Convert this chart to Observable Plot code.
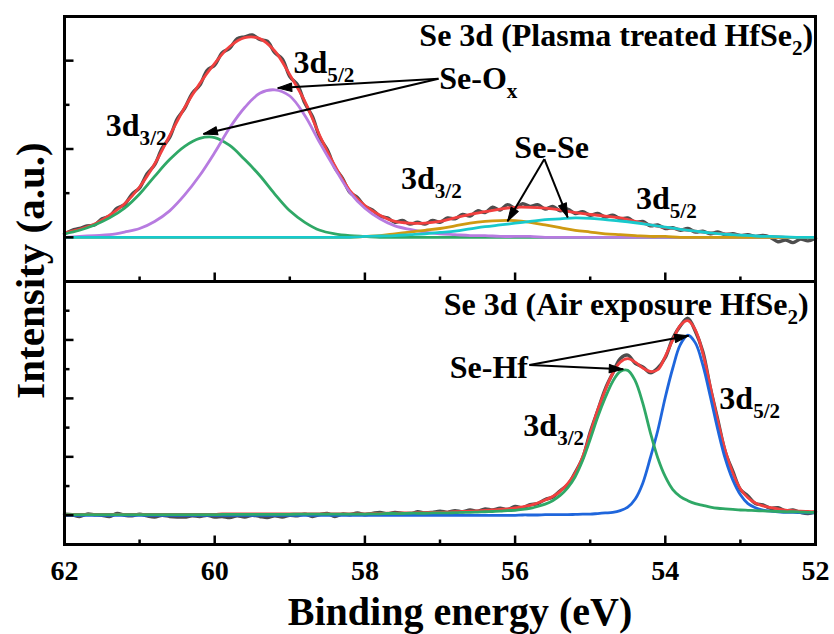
<!DOCTYPE html>
<html>
<head>
<meta charset="utf-8">
<script src="https://cdn.jsdelivr.net/npm/d3@7"></script>
<script src="https://cdn.jsdelivr.net/npm/@observablehq/plot@0.6"></script>
<style>
  html, body { margin: 0; padding: 0; background: #fff; }
  #chart { position: relative; width: 834px; height: 634px; overflow: hidden; background: #fff; }
  #chart svg { position: absolute; left: 0; }
</style>
</head>
<body>
<div id="chart"></div>
<script>
// ---------- sampled spectra (binding energy in eV, intensity in arbitrary units) ----------
// fitted curves of the upper panel are sampled every 0.2 eV, all others every 0.1 eV
const energyFitTop = d3.range(0, 51).map(i => +(62 - i * 0.2).toFixed(1));
const energyFine = d3.range(0, 101).map(i => +(62 - i * 0.1).toFixed(1));

// Se 3d, plasma treated HfSe2
const plasmaRaw = [
  0.04, 0.08, 0.10, 0.13, 0.14, 0.21, 0.24, 0.33, 0.37, 0.49,
  0.56, 0.72, 0.82, 1.01, 1.13, 1.34, 1.46, 1.63, 1.72, 1.89,
  1.95, 2.09, 2.14, 2.25, 2.27, 2.29, 2.24, 2.22, 2.09, 2.02,
  1.82, 1.73, 1.52, 1.37, 1.13, 0.99, 0.79, 0.67, 0.51, 0.45,
  0.35, 0.31, 0.24, 0.22, 0.17, 0.19, 0.15, 0.17, 0.15, 0.19,
  0.17, 0.22, 0.21, 0.26, 0.24, 0.30, 0.28, 0.34, 0.31, 0.37,
  0.33, 0.38, 0.35, 0.37, 0.32, 0.35, 0.30, 0.32, 0.27, 0.29,
  0.25, 0.27, 0.23, 0.25, 0.21, 0.22, 0.17, 0.18, 0.13, 0.14,
  0.10, 0.11, 0.08, 0.10, 0.06, 0.07, 0.04, 0.06, 0.03, 0.04,
  0.02, 0.03, 0.01, 0.02, 0.00, -0.05, -0.03, -0.06, -0.02, -0.04,
  -0.01
];
const plasmaEnvelope = [
  0.05, 0.09, 0.15, 0.25, 0.38, 0.57, 0.83, 1.15, 1.47, 1.74,
  1.97, 2.16, 2.26, 2.25, 2.11, 1.84, 1.54, 1.15, 0.81, 0.53,
  0.36, 0.25, 0.18, 0.16, 0.16, 0.18, 0.22, 0.26, 0.29, 0.32,
  0.34, 0.34, 0.33, 0.31, 0.28, 0.26, 0.24, 0.22, 0.18, 0.14,
  0.11, 0.09, 0.07, 0.05, 0.04, 0.02, 0.01, 0.01, 0, 0, 0
];
const seOx32 = [
  0.04, 0.08, 0.14, 0.22, 0.33, 0.49, 0.69, 0.88, 1.03, 1.12,
  1.13, 1.04, 0.88, 0.70, 0.49, 0.30, 0.17, 0.08, 0.04, 0.02,
  0.01, 0, 0, 0, 0, 0, 0, 0, 0, 0,
  0, 0, 0, 0, 0, 0, 0, 0, 0, 0,
  0, 0, 0, 0, 0, 0, 0, 0, 0, 0, 0
];
const seOx52 = [
  0, 0.01, 0.02, 0.03, 0.06, 0.10, 0.18, 0.30, 0.48, 0.70,
  0.96, 1.24, 1.47, 1.63, 1.67, 1.60, 1.38, 1.07, 0.78, 0.51,
  0.33, 0.21, 0.13, 0.09, 0.06, 0.04, 0.03, 0.02, 0.02, 0.01,
  0.01, 0.01, 0, 0, 0, 0, 0, 0, 0, 0,
  0, 0, 0, 0, 0, 0, 0, 0, 0, 0, 0
];
const seSe32 = [
  0, 0, 0, 0, 0, 0, 0, 0, 0, 0,
  0, 0, 0, 0, 0, 0, 0, 0, 0, 0,
  0.01, 0.02, 0.04, 0.06, 0.08, 0.10, 0.13, 0.16, 0.18, 0.19,
  0.19, 0.17, 0.14, 0.11, 0.08, 0.06, 0.04, 0.03, 0.02, 0.01,
  0.01, 0, 0, 0, 0, 0, 0, 0, 0, 0, 0
];
const seSe52 = [
  0, 0, 0, 0, 0, 0, 0, 0, 0, 0,
  0, 0, 0, 0, 0, 0, 0, 0, 0, 0,
  0.01, 0.015, 0.02, 0.03, 0.04, 0.055, 0.07, 0.095, 0.12, 0.14,
  0.16, 0.18, 0.20, 0.21, 0.22, 0.215, 0.20, 0.185, 0.165, 0.14,
  0.115, 0.09, 0.07, 0.05, 0.035, 0.025, 0.015, 0.01, 0.005, 0, 0
];

// Se 3d, air exposed HfSe2
const airRaw = [
  0.02, 0.01, -0.02, 0.02, 0.01, 0.00, -0.02, 0.03, 0.00, -0.01,
  0.02, -0.01, -0.03, 0.00, -0.02, -0.03, -0.03, -0.01, -0.02, 0.00,
  -0.03, -0.02, -0.04, -0.01, -0.03, 0.00, -0.02, -0.04, -0.01, -0.03,
  0.00, -0.01, 0.02, -0.02, 0.01, 0.03, -0.02, 0.02, 0.01, 0.04,
  0.01, 0.03, 0.05, 0.02, 0.05, 0.03, 0.02, 0.06, 0.04, 0.05,
  0.07, 0.05, 0.08, 0.06, 0.09, 0.07, 0.11, 0.09, 0.12, 0.10,
  0.15, 0.13, 0.18, 0.20, 0.27, 0.31, 0.42, 0.52, 0.73, 0.98,
  1.42, 1.79, 2.16, 2.43, 2.68, 2.74, 2.60, 2.54, 2.44, 2.52,
  2.70, 3.03, 3.24, 3.37, 3.15, 2.80, 2.18, 1.63, 1.08, 0.75,
  0.44, 0.33, 0.20, 0.18, 0.12, 0.13, 0.08, 0.09, 0.05, 0.03,
  0.06
];
const airEnvelope = [
  0.015, 0.015, 0.015, 0.015, 0.015, 0.015, 0.015, 0.015, 0.015, 0.015,
  0.015, 0.015, 0.015, 0.015, 0.015, 0.015, 0.015, 0.015, 0.015, 0.015,
  0.015, 0.025, 0.025, 0.025, 0.025, 0.025, 0.025, 0.025, 0.025, 0.025,
  0.025, 0.025, 0.025, 0.025, 0.025, 0.025, 0.025, 0.025, 0.025, 0.025,
  0.025, 0.03, 0.03, 0.035, 0.035, 0.04, 0.04, 0.045, 0.045, 0.05,
  0.05, 0.055, 0.06, 0.065, 0.07, 0.075, 0.085, 0.09, 0.10, 0.11,
  0.125, 0.145, 0.17, 0.21, 0.26, 0.32, 0.41, 0.54, 0.72, 1.00,
  1.40, 1.80, 2.14, 2.43, 2.62, 2.68, 2.62, 2.52, 2.46, 2.49,
  2.72, 3.00, 3.25, 3.33, 3.17, 2.77, 2.20, 1.61, 1.10, 0.72,
  0.45, 0.30, 0.21, 0.16, 0.13, 0.11, 0.09, 0.08, 0.07, 0.065,
  0.06
];
const seHf32 = [
  0.01, 0.01, 0.01, 0.01, 0.01, 0.01, 0.01, 0.01, 0.01, 0.01,
  0.01, 0.01, 0.01, 0.01, 0.01, 0.01, 0.01, 0.01, 0.01, 0.01,
  0.01, 0.015, 0.015, 0.015, 0.015, 0.015, 0.015, 0.015, 0.015, 0.015,
  0.015, 0.02, 0.02, 0.02, 0.02, 0.02, 0.02, 0.02, 0.02, 0.02,
  0.02, 0.025, 0.025, 0.03, 0.03, 0.03, 0.035, 0.035, 0.035, 0.04,
  0.04, 0.04, 0.045, 0.05, 0.05, 0.055, 0.06, 0.065, 0.07, 0.08,
  0.085, 0.10, 0.12, 0.15, 0.19, 0.25, 0.34, 0.47, 0.66, 0.94,
  1.30, 1.68, 2.01, 2.29, 2.46, 2.48, 2.30, 1.92, 1.42, 0.98,
  0.66, 0.44, 0.32, 0.25, 0.20, 0.17, 0.14, 0.12, 0.11, 0.10,
  0.09, 0.085, 0.08, 0.075, 0.07, 0.065, 0.06, 0.06, 0.055, 0.05,
  0.05
];
const seHf52 = [
  0, 0, 0, 0, 0, 0, 0, 0, 0, 0,
  0, 0, 0, 0, 0, 0, 0, 0, 0, 0,
  0, 0, 0, 0, 0, 0, 0, 0, 0, 0,
  0, 0, 0, 0, 0, 0, 0, 0, 0, 0,
  0, 0, 0, 0, 0, 0, 0, 0, 0, 0,
  0, 0, 0, 0, 0, 0, 0, 0, 0, 0,
  0, 0.005, 0.005, 0.005, 0.01, 0.01, 0.01, 0.01, 0.015, 0.02,
  0.02, 0.03, 0.04, 0.05, 0.08, 0.14, 0.28, 0.55, 0.98, 1.45,
  2.02, 2.52, 2.92, 3.08, 2.95, 2.57, 2.03, 1.46, 0.96, 0.60,
  0.35, 0.20, 0.13, 0.09, 0.07, 0.06, 0.05, 0.05, 0.045, 0.04,
  0.04
];

// ---------- axes ----------
const xTickValues = [62, 60, 58, 56, 54, 52];
const xTickLabels = ["62", "60", "58", "56", "54", "52"];
const xMinorTicks = [61, 59, 57, 55, 53];
const yTopMajor = [0, 1, 2];
const yTopMinor = [0.5, 1.5];
const yBottomMajor = [0, 1, 2, 3];
const yBottomMinor = [0.5, 1.5, 2.5, 3.5];

// ---------- annotations (data coordinates) ----------
const topLabels = [
  {x: 61.45, y: 1.15, t: "3d_{3/2}"},
  {x: 58.95, y: 1.86, t: "3d_{5/2}"},
  {x: 57.01, y: 1.68, t: "Se-O_{x}"},
  {x: 56.01, y: 0.90, t: "Se-Se"},
  {x: 57.52, y: 0.545, t: "3d_{3/2}"},
  {x: 54.39, y: 0.32, t: "3d_{5/2}"}
];
const topArrows = [
  {x1: 57.02, y1: 1.795, x2: 59.16, y2: 1.69},
  {x1: 57.02, y1: 1.795, x2: 60.15, y2: 1.17},
  {x1: 55.61, y1: 0.886, x2: 56.10, y2: 0.182},
  {x1: 55.61, y1: 0.886, x2: 55.30, y2: 0.227}
];
const bottomLabels = [
  {x: 56.87, y: 2.35, t: "Se-Hf"},
  {x: 55.89, y: 1.35, t: "3d_{3/2}"},
  {x: 53.28, y: 1.81, t: "3d_{5/2}"}
];
const bottomArrows = [
  {x1: 55.81, y1: 2.57, x2: 54.56, y2: 2.50},
  {x1: 55.81, y1: 2.57, x2: 53.69, y2: 3.07}
];

// ---------- styling ----------
const FONT = '"Liberation Serif", "Times New Roman", Times, serif';
const COLORS = {
  raw: "#4d4d4d", envelope: "#f2403f", green: "#2fa866", purple: "#b77be0",
  gold: "#cf9a12", cyan: "#18c9cc", blue: "#1f66dc"
};
const W = 834;
const M = {left: 64, right: 19};
const xDomain = [62, 52];

const topDims = {height: 291, top: 16, bottom: 10, domain: [-0.5, 2.5]};
const botDims = {height: 363, top: 10, bottom: 90, domain: [-0.5, 4]};

const xScale = Plot.scale({x: {domain: xDomain, range: [M.left, W - M.right]}});
const yScaleOf = d => Plot.scale({y: {domain: d.domain, range: [d.height - d.bottom, d.top]}});

const series = (energy, values) => energy.map((E, i) => ({E, v: values[i]}));

const tickShape = {draw(ctx, l) { ctx.moveTo(0, 0); ctx.lineTo(0, -l); }};
const headShape = {draw(ctx, l) { const w = l * 0.3; ctx.moveTo(0, -l); ctx.lineTo(w, 0); ctx.lineTo(-w, 0); ctx.closePath(); }};

function tickMarks(dims, yMajor, yMinor) {
  const y0 = dims.domain[0];
  const common = {anchor: "start", shape: tickShape, stroke: "black", strokeWidth: 2.5, strokeLinecap: "butt"};
  return [
    Plot.vector(xTickValues, {x: d => d, y: () => y0, length: 9, rotate: 0, ...common}),
    Plot.vector(xMinorTicks, {x: d => d, y: () => y0, length: 5, rotate: 0, ...common}),
    Plot.vector(yMajor, {x: () => xDomain[0], y: d => d, length: 9, rotate: 90, ...common}),
    Plot.vector(yMinor, {x: () => xDomain[0], y: d => d, length: 5, rotate: 90, ...common})
  ];
}

function arrowMarks(arrows, yScale) {
  const heads = arrows.map(a => {
    const dx = xScale.apply(a.x2) - xScale.apply(a.x1);
    const dy = yScale.apply(a.y2) - yScale.apply(a.y1);
    return {...a, angle: Math.atan2(dx, -dy) * 180 / Math.PI};
  });
  return [
    Plot.link(arrows, {x1: "x1", y1: "y1", x2: "x2", y2: "y2", stroke: "black", strokeWidth: 2, strokeLinecap: "butt"}),
    Plot.vector(heads, {x: "x2", y: "y2", rotate: "angle", length: 14, anchor: "end", shape: headShape,
      fill: "black", stroke: "black", strokeWidth: 1})
  ];
}

const textStyle = {fontFamily: FONT, fontWeight: "bold", fill: "black"};
const curve = (energy, values, color, width = 2.8) =>
  Plot.line(series(energy, values), {x: "E", y: "v", stroke: color, strokeWidth: width, curve: "catmull-rom"});

// write "_{...}" parts of labels as lowered, smaller tspans
function applySubscripts(svg) {
  d3.select(svg).selectAll("text").each(function () {
    const s = this.textContent;
    if (!s.includes("_{")) return;
    const parts = s.split(/(_\{[^}]*\})/).filter(p => p.length);
    this.textContent = "";
    let lowered = false;
    for (const p of parts) {
      const ts = document.createElementNS("http://www.w3.org/2000/svg", "tspan");
      if (p.startsWith("_{")) {
        ts.textContent = p.slice(2, -1);
        ts.setAttribute("font-size", "0.66em");
        ts.setAttribute("dy", "9");
        lowered = true;
      } else {
        ts.textContent = p;
        if (lowered) { ts.setAttribute("dy", "-9"); lowered = false; }
      }
      this.appendChild(ts);
    }
  });
}

const baseOptions = dims => ({
  width: W, height: dims.height,
  marginLeft: M.left, marginRight: M.right, marginTop: dims.top, marginBottom: dims.bottom,
  x: {domain: xDomain, axis: null},
  y: {domain: dims.domain, axis: null},
  style: {background: "transparent", overflow: "visible"}
});

// ---------- upper panel: plasma treated ----------
const yTop = yScaleOf(topDims);
const topPlot = Plot.plot({
  ...baseOptions(topDims),
  marks: [
    curve(energyFine, plasmaRaw, COLORS.raw, 3.4),
    curve(energyFitTop, plasmaEnvelope, COLORS.envelope),
    curve(energyFitTop, seOx32, COLORS.green),
    curve(energyFitTop, seOx52, COLORS.purple),
    curve(energyFitTop, seSe32, COLORS.gold),
    curve(energyFitTop, seSe52, COLORS.cyan),
    ...arrowMarks(topArrows, yTop),
    Plot.text(topLabels, {x: "x", y: "y", text: "t", textAnchor: "start", lineAnchor: "bottom", fontSize: 32, ...textStyle}),
    Plot.text(["Se 3d (Plasma treated HfSe_{2})"], {x: () => 52.03, y: () => 2.17, textAnchor: "end", lineAnchor: "bottom", fontSize: 32, ...textStyle}),
    Plot.text(["Intensity (a.u.)"], {frameAnchor: "left", rotate: -90, dx: -21, dy: 121.5, textAnchor: "middle", lineAnchor: "bottom", fontSize: 41, ...textStyle}),
    ...tickMarks(topDims, yTopMajor, yTopMinor),
    Plot.frame({stroke: "black", strokeWidth: 3})
  ]
});

// ---------- lower panel: air exposure ----------
const yBot = yScaleOf(botDims);
const bottomPlot = Plot.plot({
  ...baseOptions(botDims),
  marks: [
    curve(energyFine, airRaw, COLORS.raw, 3.4),
    curve(energyFine, airEnvelope, COLORS.envelope),
    curve(energyFine, seHf52, COLORS.blue),
    curve(energyFine, seHf32, COLORS.green),
    ...arrowMarks(bottomArrows, yBot),
    Plot.text(bottomLabels, {x: "x", y: "y", text: "t", textAnchor: "start", lineAnchor: "bottom", fontSize: 32, ...textStyle}),
    Plot.text(["Se 3d (Air exposure HfSe_{2})"], {x: () => 52.09, y: () => 3.43, textAnchor: "end", lineAnchor: "bottom", fontSize: 32, ...textStyle}),
    Plot.text(xTickValues, {x: d => d, text: (d, i) => xTickLabels[i], frameAnchor: "bottom", dy: 35, textAnchor: "middle", lineAnchor: "bottom", fontSize: 28, ...textStyle}),
    Plot.text(["Binding energy (eV)"], {frameAnchor: "bottom", dx: 20, dy: 80, textAnchor: "middle", lineAnchor: "bottom", fontSize: 40, ...textStyle}),
    ...tickMarks(botDims, yBottomMajor, yBottomMinor),
    Plot.frame({stroke: "black", strokeWidth: 3})
  ]
});

applySubscripts(topPlot);
applySubscripts(bottomPlot);

const chart = document.getElementById("chart");
bottomPlot.style.top = (281 - botDims.top) + "px";
topPlot.style.top = "0px";
chart.appendChild(bottomPlot);
chart.appendChild(topPlot);
</script>
</body>
</html>
